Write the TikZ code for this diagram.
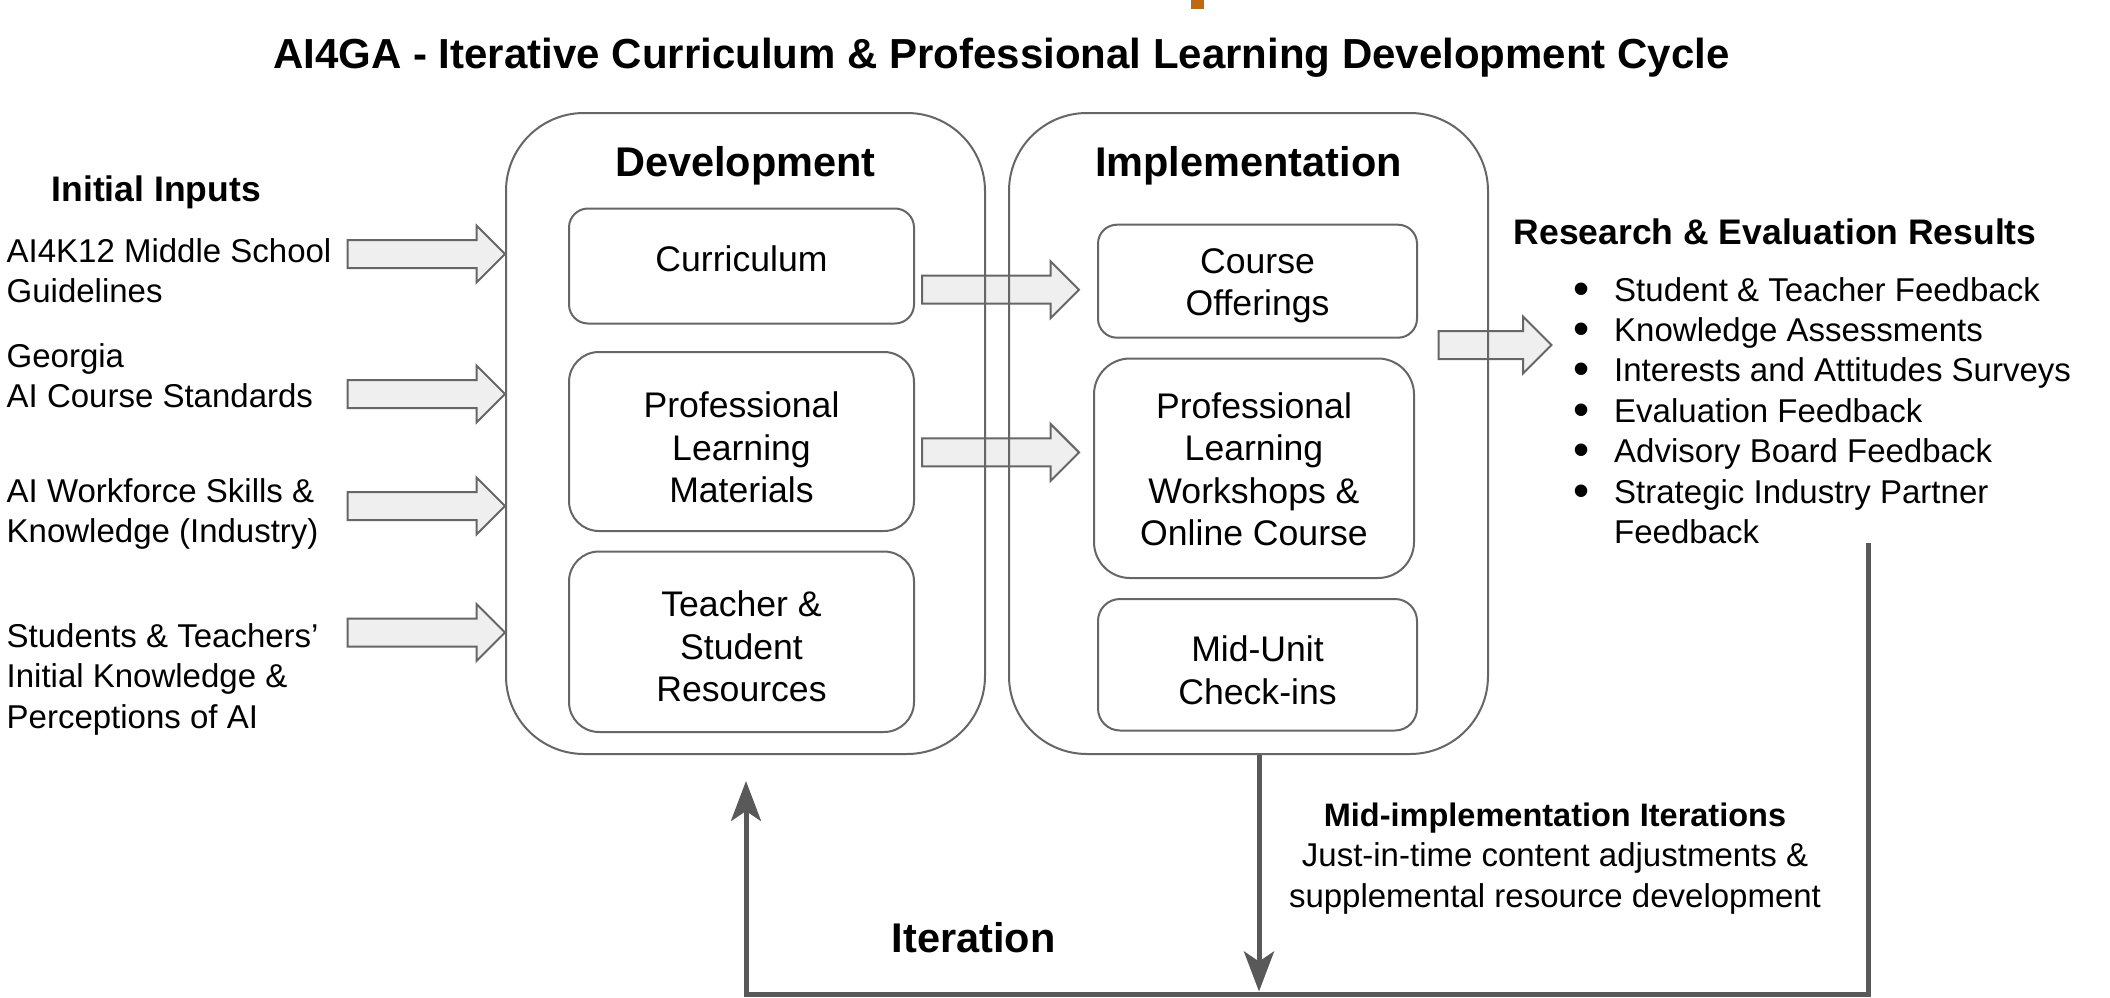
\documentclass[tikz,border=0pt]{standalone}
\usepackage{fontspec}
\setmainfont{Liberation Sans}
\usetikzlibrary{arrows.meta,calc,backgrounds}

\definecolor{edge}{HTML}{666666}
\definecolor{loopline}{HTML}{595959}
\definecolor{arrowfill}{HTML}{EFEFEF}
\definecolor{accent}{HTML}{BF6A12}

\newcommand\fs[2]{\fontsize{#1}{#2}\selectfont}
% list marker: a large round bullet in a fixed-width slot
\newcommand\listdot{\makebox[41pt][l]{\smash{\raisebox{-3pt}{\fs{46}{40}•}}}}
\newcommand\listgap{\makebox[41pt][l]{}}

% wide block arrow from a tail point to a tip point (horizontal)
\newcommand\blockarrow[2]{%
  \draw[barrow] let \p1=(#1), \p2=(#2) in
    (\x1,\y1+14pt) -- (\x2-28.5pt,\y1+14pt) -- (\x2-28.5pt,\y1+28.5pt) -- (\x2,\y1)
    -- (\x2-28.5pt,\y1-28.5pt) -- (\x2-28.5pt,\y1-14pt) -- (\x1,\y1-14pt) -- cycle;}

\begin{document}
\begin{tikzpicture}[x=1pt,y=-1pt,
  stage/.style={draw=edge, line width=2pt, rounded corners=78pt,
    minimum width=479pt, minimum height=641pt, inner sep=0pt},
  inbox/.style={draw=edge, line width=2pt, inner sep=0pt},
  boxtext/.style={anchor=base, align=center, inner sep=0pt, font=\fs{35.6}{42.5}},
  heading/.style={anchor=base, inner sep=0pt, font=\bfseries\fs{41.5}{48}},
  subhead/.style={anchor=base west, inner sep=0pt, font=\bfseries\fs{35.5}{42}},
  side/.style={anchor=base west, align=left, inner sep=0pt, font=\fs{33}{40.5}},
  barrow/.style={draw=edge, fill=arrowfill, line width=2pt, line join=miter},
  loop/.style={draw=loopline, line width=5pt},
  looptip/.style={-{Stealth[length=40pt,width=30pt,inset=10pt]}}
]
\useasboundingbox (0,0) rectangle (2110,998);
\begin{scope}[on background layer]
  \fill[white] (0,0) rectangle (2110,998);
\end{scope}

% small accent mark at the top edge
\fill[accent] (1190.5,0) rectangle (1203.5,9);

% title
\node[anchor=base, inner sep=0pt, font=\bfseries\fs{42}{48}] (title) at (1001.5,68.5)
  {AI4GA - Iterative Curriculum \& Professional Learning Development Cycle};

% initial inputs (multi-line nodes are anchored at their last baseline)
\node[subhead] (inputs) at (51.5,201.7) {Initial Inputs};
\node[side] (g1) at (6.5,302.5) {AI4K12 Middle School\\Guidelines};
\node[side] (g2) at (6.5,407.5) {Georgia\\AI Course Standards};
\node[side] (g3) at (6.5,542.5) {AI Workforce Skills \&\\Knowledge (Industry)};
\node[side] (g4) at (6.5,728) {Students \& Teachers’\\Initial Knowledge \&\\Perceptions of AI};

% stage containers
\node[stage] (dev) at (745.5,433.5) {};
\node[stage] (impl) at (1248.5,433.5) {};
\node[heading] (devtitle) at (745.5,176) {Development};
\node[heading] (impltitle) at (1248.5,176) {Implementation};

% development items
\node[inbox, minimum width=345pt, minimum height=115pt, rounded corners=19pt] (cur) at (741.5,266) {};
\node[inbox, minimum width=345pt, minimum height=179pt, rounded corners=30pt] (plm) at (741.5,441.5) {};
\node[inbox, minimum width=345pt, minimum height=180.5pt, rounded corners=30pt] (tsr) at (741.5,641.75) {};
\node[boxtext] (curtext) at (cur |- 0,271) {Curriculum};
\node[boxtext] (plmtext) at (plm |- 0,502.5) {Professional\\Learning\\Materials};
\node[boxtext] (tsrtext) at (tsr |- 0,701.7) {Teacher \&\\Student\\Resources};

% implementation items
\node[inbox, minimum width=319pt, minimum height=113pt, rounded corners=19pt] (co) at (1257.5,281.2) {};
\node[inbox, minimum width=320pt, minimum height=219.5pt, rounded corners=36pt] (plw) at (1254,468.25) {};
\node[inbox, minimum width=319pt, minimum height=131.5pt, rounded corners=22pt] (mu) at (1257.5,664.75) {};
\node[boxtext] (cotext) at (co |- 0,315.5) {Course\\Offerings};
\node[boxtext] (plwtext) at (plw |- 0,545.6) {Professional\\Learning\\Workshops \&\\Online Course};
\node[boxtext] (mutext) at (mu |- 0,704.4) {Mid-Unit\\Check-ins};

% research and evaluation results
\node[subhead] (restitle) at (1513.5,244.3) {Research \& Evaluation Results};
\node[side, font=\fs{33}{40.4}] (res) at (1573,543.4) {%
  \listdot Student \& Teacher Feedback\\
  \listdot Knowledge Assessments\\
  \listdot Interests and Attitudes Surveys\\
  \listdot Evaluation Feedback\\
  \listdot Advisory Board Feedback\\
  \listdot Strategic Industry Partner\\
  \listgap Feedback};

% iteration labels
\node[anchor=base, inner sep=0pt, font=\bfseries\fs{32.5}{40}] (midtitle) at (1555,826) {Mid-implementation Iterations};
\node[anchor=base, align=center, inner sep=0pt, font=\fs{33}{40.5}] (middesc) at (1555,907)
  {Just-in-time content adjustments \&\\supplemental resource development};
\node[heading] (iter) at (973.7,952) {Iteration};

% block arrows sit beneath the container outlines
\coordinate (in1) at (347.5,254);
\coordinate (in2) at (347.5,394);
\coordinate (in3) at (347.5,506);
\coordinate (in4) at (347.5,632.5);
\coordinate (d1) at (922,289.7);
\coordinate (d2) at (922,452.4);
\coordinate (r1) at (1438.5,345);
\coordinate (r1tip) at (1551.5,345);
\begin{scope}[on background layer]
  \blockarrow{in1}{in1 -| dev.west}
  \blockarrow{in2}{in2 -| dev.west}
  \blockarrow{in3}{in3 -| dev.west}
  \blockarrow{in4}{in4 -| dev.west}
  \blockarrow{d1}{$(d1 -| co.west)+(-18,0)$}
  \blockarrow{d2}{$(d2 -| plw.west)+(-14,0)$}
  \blockarrow{r1}{r1tip}
\end{scope}

% feedback loops
\coordinate (fb) at (1868,543);
\coordinate (lb) at (746,994);
\draw[loop, looptip] (fb) |- (lb) -- ($(dev.south)+(0.5,26)$);
\draw[loop, looptip] ($(impl.south)+(10.5,0)$) -- ($(impl.south |- lb)+(10.5,-2.5)$);
\end{tikzpicture}
\end{document}
